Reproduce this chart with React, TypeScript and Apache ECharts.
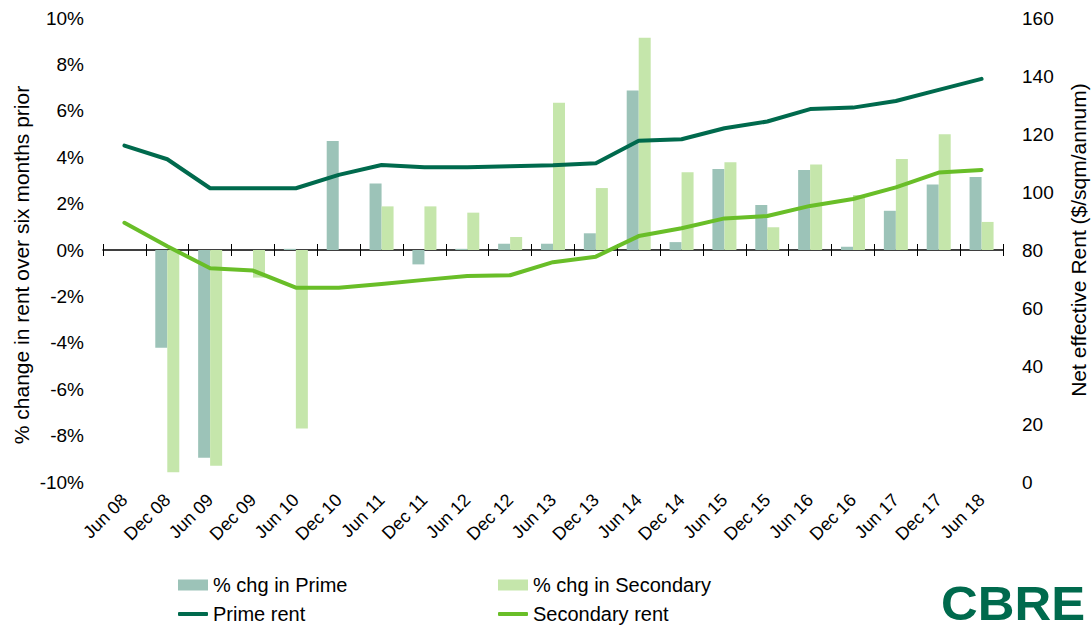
import React, { useEffect, useRef } from "react";
import * as echarts from "echarts";

const categories = [
  "Jun 08", "Dec 08", "Jun 09", "Dec 09", "Jun 10", "Dec 10", "Jun 11",
  "Dec 11", "Jun 12", "Dec 12", "Jun 13", "Dec 13", "Jun 14", "Dec 14",
  "Jun 15", "Dec 15", "Jun 16", "Dec 16", "Jun 17", "Dec 17", "Jun 18",
];

const primeChg = [
  0, -4.21, -8.95, 0, 0.05, 4.7, 2.87, -0.62, 0.05, 0.27, 0.27, 0.72, 6.88,
  0.34, 3.49, 1.94, 3.45, 0.14, 1.69, 2.82, 3.15,
];

const secondaryChg = [
  0, -9.58, -9.3, -1.19, -7.69, 0, 1.88, 1.88, 1.61, 0.56, 6.35, 2.67, 9.15,
  3.35, 3.78, 0.98, 3.68, 2.37, 3.92, 4.99, 1.21,
];

const primeRent = [
  116, 111.3, 101.3, 101.3, 101.3, 105.9, 109.3, 108.5, 108.5, 108.9, 109.2,
  109.9, 117.7, 118.2, 122.0, 124.3, 128.6, 129.1, 131.4, 135.2, 139.0,
];

const secondaryRent = [
  89.4, 81.3, 73.7, 72.9, 67.0, 67.0, 68.3, 69.7, 71.0, 71.3, 75.8, 77.7,
  84.8, 87.5, 90.9, 91.7, 95.2, 97.6, 101.6, 106.7, 107.6,
];

const leftAxisName = "% change in rent over six months prior";
const rightAxisName = "Net effective Rent ($/sqm/annum)";

const FONT = "'Liberation Sans', Arial, sans-serif";
const C_PRIME_BAR = "#9cc3b8";
const C_SEC_BAR = "#c5e6ab";
const C_PRIME_LINE = "#006a4d";
const C_SEC_LINE = "#69be28";

export default function App() {
  const ref = useRef<HTMLDivElement>(null);

  useEffect(() => {
    if (!ref.current) return;
    const chart = echarts.init(ref.current, undefined, { renderer: "svg" });
    const legendText = { fontSize: 20, lineHeight: 20, color: "#000", fontFamily: FONT };
    const zeroAxisBase = {
      type: "category",
      data: categories,
      gridIndex: 0,
      position: "bottom",
      axisLabel: { show: false },
      splitLine: { show: false },
    };
    const legendBase = {
      padding: 0,
      itemWidth: 30,
      textStyle: legendText,
      selectedMode: false,
    };
    const nameStyle = {
      fontSize: 21,
      fontFamily: FONT,
      fill: "#000",
      align: "center",
      verticalAlign: "middle",
    };
    chart.setOption({
      animation: false,
      textStyle: { fontFamily: FONT },
      grid: { left: 103, right: 89, top: 18, bottom: 148, containLabel: false },
      xAxis: [
        {
          type: "category",
          data: categories,
          position: "bottom",
          axisLine: { show: false, onZero: false },
          axisTick: { show: false },
          axisLabel: {
            interval: 0,
            rotate: 45,
            margin: 15,
            fontSize: 18,
            color: "#000",
            fontFamily: FONT,
          },
        },
        {
          ...zeroAxisBase,
          axisLine: { show: true, onZero: true, onZeroAxisIndex: 0, lineStyle: { color: "#000", width: 1.5 } },
          axisTick: { show: true, interval: 0, length: 6, lineStyle: { color: "#000", width: 1 } },
        },
        {
          ...zeroAxisBase,
          axisLine: { show: false, onZero: true, onZeroAxisIndex: 0 },
          axisTick: { show: true, inside: true, interval: 0, length: 6, lineStyle: { color: "#000", width: 1 } },
        },
      ],
      yAxis: [
        {
          type: "value",
          min: -10,
          max: 10,
          interval: 2,
          position: "left",
          axisLine: { show: false },
          axisTick: { show: false },
          splitLine: { show: false },
          axisLabel: {
            formatter: (v: number) => `${v}%`,
            fontSize: 19,
            color: "#000",
            margin: 19,
            fontFamily: FONT,
          },
        },
        {
          type: "value",
          min: 0,
          max: 160,
          interval: 20,
          position: "right",
          axisLine: { show: false },
          axisTick: { show: false },
          splitLine: { show: false },
          axisLabel: {
            fontSize: 19,
            color: "#000",
            margin: 19,
            fontFamily: FONT,
          },
        },
      ],
      legend: [
        { ...legendBase, data: ["% chg in Prime"], left: 178, top: 575, itemHeight: 11, icon: "rect" },
        { ...legendBase, data: ["% chg in Secondary"], left: 498, top: 575, itemHeight: 11, icon: "rect" },
        { ...legendBase, data: ["Prime rent"], left: 178, top: 604, itemHeight: 4, icon: "roundRect" },
        { ...legendBase, data: ["Secondary rent"], left: 498, top: 604, itemHeight: 4, icon: "roundRect" },
      ],
      graphic: [
        {
          type: "text",
          x: 21,
          y: 265,
          rotation: Math.PI / 2,
          style: { ...nameStyle, text: leftAxisName },
        },
        {
          type: "text",
          x: 1078,
          y: 240,
          rotation: Math.PI / 2,
          style: { ...nameStyle, text: rightAxisName },
        },
        {
          type: "text",
          left: 941,
          top: 579,
          scaleX: 1.06,
          style: {
            text: "CBRE",
            fontSize: 48,
            fontWeight: 900,
            fontFamily: FONT,
            fill: C_PRIME_LINE,
          },
        },
      ],
      series: [
        {
          name: "% chg in Prime",
          type: "bar",
          xAxisIndex: 0,
          yAxisIndex: 0,
          data: primeChg,
          barWidth: 12,
          barGap: "0%",
          itemStyle: { color: C_PRIME_BAR },
        },
        {
          name: "% chg in Secondary",
          type: "bar",
          xAxisIndex: 0,
          yAxisIndex: 0,
          data: secondaryChg,
          barWidth: 12,
          barGap: "0%",
          itemStyle: { color: C_SEC_BAR },
        },
        {
          name: "Prime rent",
          type: "line",
          xAxisIndex: 0,
          yAxisIndex: 1,
          data: primeRent,
          symbol: "none",
          lineStyle: { color: C_PRIME_LINE, width: 4, cap: "round", join: "round" },
          itemStyle: { color: C_PRIME_LINE },
          z: 5,
        },
        {
          name: "Secondary rent",
          type: "line",
          xAxisIndex: 0,
          yAxisIndex: 1,
          data: secondaryRent,
          symbol: "none",
          lineStyle: { color: C_SEC_LINE, width: 4, cap: "round", join: "round" },
          itemStyle: { color: C_SEC_LINE },
          z: 5,
        },
      ],
    });
    return () => chart.dispose();
  }, []);

  return (
    <div
      ref={ref}
      style={{ position: "absolute", left: 0, top: 0, width: 1092, height: 630, background: "#fff" }}
    />
  );
}
